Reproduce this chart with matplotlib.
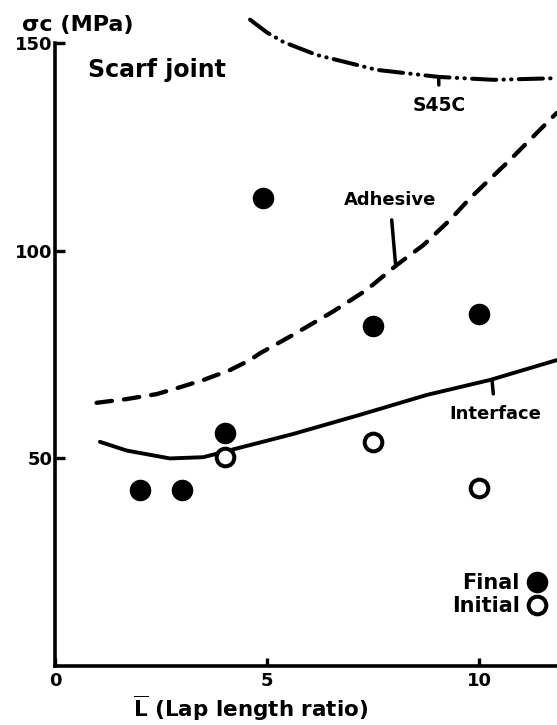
import matplotlib
matplotlib.use('Agg')
import matplotlib.pyplot as plt

plt.rcParams['font.family'] = ['DejaVu Sans']
plt.rcParams['font.weight'] = 'bold'
plt.rcParams['axes.labelweight'] = 'bold'
plt.rcParams['mathtext.fontset'] = 'dejavusans'

# measured points (lap length ratio, MPa)
final_x = [2.0, 3.0, 4.0, 4.9, 7.5, 10.0]
final_y = [42.4, 42.4, 56.1, 112.7, 81.8, 84.8]
initial_x = [4.0, 7.5, 10.0]
initial_y = [50.4, 54.0, 42.8]

# curves
s45c_x = [4.60, 5.00, 5.39, 6.17, 6.96, 7.59, 9.05, 10.35, 11.84]
s45c_y = [155.7, 152.6, 150.3, 147.2, 145.2, 143.6, 141.9, 141.2, 141.6]
adh_x = [0.98, 1.69, 2.40, 2.87, 3.50, 4.13, 4.60, 4.83, 5.62, 6.56,
         7.35, 8.06, 8.69, 9.32, 9.79, 10.73, 11.83]
adh_y = [63.4, 64.3, 65.5, 66.9, 68.9, 71.3, 73.7, 75.3, 79.8, 85.4,
         90.6, 96.6, 101.4, 107.5, 112.7, 121.9, 133.2]
intf_x = [1.06, 1.69, 2.71, 3.50, 4.21, 5.62, 7.19, 8.77, 10.26, 11.84]
intf_y = [54.0, 51.9, 50.0, 50.3, 52.2, 55.9, 60.5, 65.3, 68.9, 73.7]

xticks = [0, 5, 10]
yticks = [50, 100, 150]

fig = plt.figure(figsize=(5.57, 7.25), dpi=100)
ax = fig.add_axes([55 / 557, 1 - 666 / 725, 502 / 557, (666 - 43.3) / 725])
ax.set_xlim(0, 11.84)
ax.set_ylim(0, 150)

ax.plot(intf_x, intf_y, color='black', lw=2.8, solid_capstyle='round')
ax.plot(adh_x, adh_y, color='black', lw=3.1, dash_capstyle='round',
        linestyle=(0, (3.6, 2.8)))
ax.plot(s45c_x, s45c_y, color='black', lw=2.9, dash_capstyle='round',
        linestyle=(0, (6, 1.8, 0.1, 1.8, 0.1, 1.8)), clip_on=False)

ax.plot(final_x, final_y, 'o', color='black', ms=15.5, mew=0, label='Final')
ax.plot(initial_x, initial_y, 'o', mfc='white', mec='black', ms=12.7, mew=2.9,
        label='Initial')

# curve labels with pointer strokes
ax.text(0.78, 143.6, 'Scarf joint', fontsize=17, va='center', ha='left')
ax.annotate('S45C', xy=(9.05, 141.8), xytext=(9.06, 135.0), fontsize=13.5,
            ha='center', va='center',
            arrowprops=dict(arrowstyle='-', lw=2.5, color='black', shrinkA=6, shrinkB=0))
ax.annotate('Adhesive', xy=(8.03, 97.0), xytext=(7.9, 112.3), fontsize=13,
            ha='center', va='center',
            arrowprops=dict(arrowstyle='-', lw=2.5, color='black', shrinkA=6, shrinkB=0))
ax.annotate('Interface', xy=(10.31, 68.6), xytext=(10.38, 60.7), fontsize=13,
            ha='center', va='center',
            arrowprops=dict(arrowstyle='-', lw=2.5, color='black', shrinkA=6, shrinkB=0))

ax.legend(loc='lower right', bbox_to_anchor=(0.978, 0.08), frameon=False,
          markerfirst=False, fontsize=15, handlelength=0.9,
          handletextpad=0.35, labelspacing=0.15, borderpad=0, borderaxespad=0)

for side in ['top', 'right']:
    ax.spines[side].set_visible(False)
for side in ['left', 'bottom']:
    ax.spines[side].set_linewidth(2.6)

ax.set_xticks(xticks)
ax.set_xticklabels([str(t) for t in xticks])
ax.set_yticks(yticks)
ax.set_yticklabels([str(t) for t in yticks])
ax.tick_params(axis='both', direction='in', width=2.4, labelsize=13, colors='black')
ax.tick_params(axis='y', length=7, pad=2)
ax.tick_params(axis='x', length=6, pad=4)

ax.set_ylabel('σc (MPa)', fontsize=16, rotation=0, ha='left', va='center')
ax.yaxis.set_label_coords(-0.066, 1.03)
ax.set_xlabel(r'$\overline{\mathbf{L}}$ (Lap length ratio)', fontsize=15.5, va='center')
ax.xaxis.set_label_coords(0.39, -0.068)

fig.savefig('out.png', dpi=100)
